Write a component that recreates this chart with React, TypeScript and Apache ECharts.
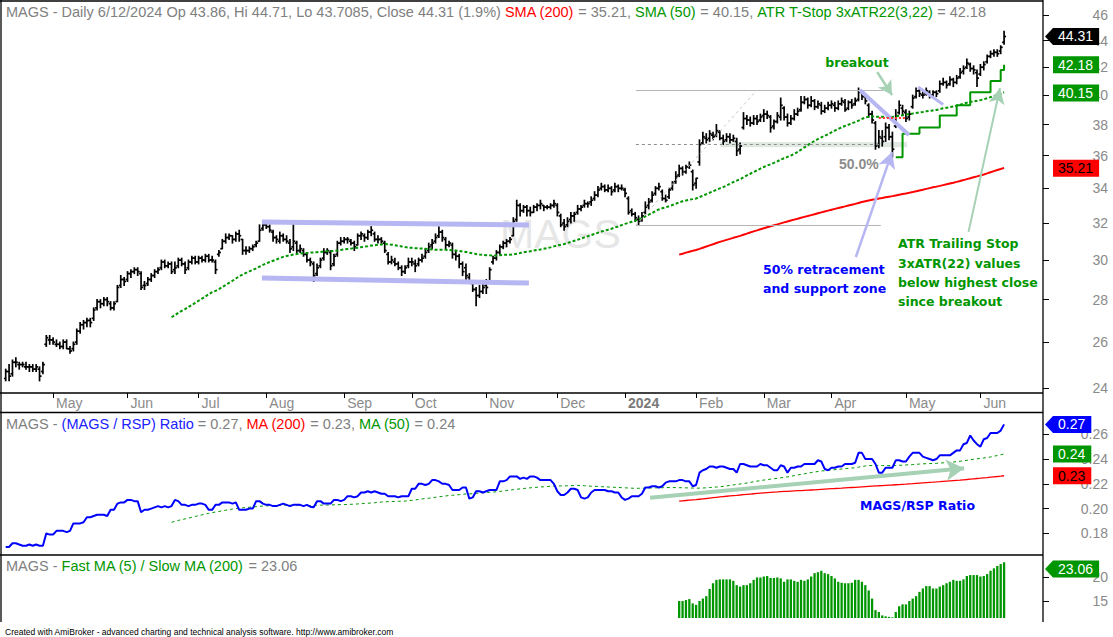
import React, { useEffect, useRef } from "react";
import * as echarts from "echarts";

// ---------- DATA ----------
// Daily bars of MAGS, 11 Apr 2023 .. 12 Jun 2024 (index 0 .. 295)
const OPEN = [
  24.4,24.7,24.6,25.1,25.0,25.0,24.9,24.9,24.9,24.8,24.8,24.7,25.9,26.1,
  26.1,25.9,25.9,25.8,26.0,25.7,25.7,26.0,26.5,26.8,26.9,27.0,27.1,27.6,27.9,27.8,28.0,27.8,27.6,27.9,28.7,29.0,
  29.0,29.3,29.4,29.5,29.3,28.7,28.8,29.0,29.2,29.4,29.6,29.9,29.7,29.8,29.5,29.7,30.0,29.8,29.6,29.9,30.1,
  29.9,30.1,30.0,30.2,30.0,29.9,30.3,30.6,31.0,31.2,31.3,31.1,31.4,31.1,30.5,30.5,30.6,30.8,31.0,31.7,
  31.9,31.8,31.5,31.2,31.0,31.3,31.1,30.9,30.7,30.9,30.5,30.5,30.3,30.0,29.8,29.3,29.7,30.1,30.4,30.4,29.8,30.3,30.9,
  31.0,31.1,31.0,30.9,30.8,31.3,31.3,31.2,31.5,31.4,31.1,31.1,30.9,30.3,29.9,29.9,29.8,29.6,29.4,29.7,
  29.9,29.8,29.8,30.0,30.2,30.5,30.8,31.0,31.3,31.5,31.1,30.8,30.8,30.3,30.2,29.8,29.6,29.1,28.8,28.5,28.2,28.4,
  28.7,28.9,29.9,30.1,30.4,30.7,30.9,31.0,31.3,32.2,33.0,32.7,32.9,32.7,32.6,32.9,33.0,33.0,32.9,32.9,33.0,
  33.0,32.4,32.0,31.9,32.2,32.4,32.6,32.8,33.0,33.1,33.2,33.4,33.6,34.0,34.1,33.9,34.0,33.9,34.1,34.0,
  33.9,33.4,32.7,32.5,32.2,32.2,32.6,33.0,33.3,33.7,34.0,33.8,33.4,33.5,34.0,34.4,34.8,35.2,35.0,35.3,35.0,
  34.3,35.6,36.8,37.1,37.1,37.3,37.3,37.5,37.1,37.0,37.2,37.0,36.9,36.4,37.8,38.4,38.3,38.1,38.4,38.3,
  38.6,38.7,38.5,37.9,38.2,38.5,39.1,38.5,38.1,38.4,38.7,39.0,39.5,39.7,39.3,39.6,39.2,39.3,38.9,39.1,
  39.3,39.3,39.1,39.4,39.5,39.1,39.5,39.4,39.7,40.2,39.9,39.3,38.7,38.1,36.7,37.1,37.2,37.8,37.2,37.9,38.8,39.1,
  38.8,38.5,39.2,39.9,40.3,40.0,40.1,40.2,40.0,40.2,40.3,40.8,40.9,40.8,41.1,40.9,41.3,41.7,42.0,42.2,41.9,41.6,
  41.5,42.0,42.4,42.8,43.0,43.1,43.2,43.86,
];
const HIGH = [
  24.8,25.0,25.2,25.3,25.1,25.1,25.1,25.0,25.0,25.0,24.9,25.1,26.3,26.3,
  26.2,26.1,26.0,26.1,26.1,25.8,26.0,26.6,26.9,27.0,27.1,27.1,27.6,28.0,28.0,28.1,28.1,27.9,27.9,28.7,29.2,29.1,
  29.4,29.5,29.6,29.6,29.4,28.9,29.1,29.3,29.5,29.6,30.0,30.0,29.9,29.9,29.9,30.1,30.1,29.9,30.0,30.2,30.2,
  30.2,30.2,30.3,30.3,30.2,30.0,30.5,31.1,31.4,31.4,31.3,31.5,31.6,31.1,30.7,30.7,30.8,31.0,31.9,32.0,
  32.0,31.9,31.6,31.3,31.5,31.4,31.3,31.1,32.0,31.0,30.8,30.6,30.4,30.1,29.9,29.8,30.1,30.6,30.6,30.5,30.3,31.0,31.2,
  31.2,31.2,31.1,31.0,31.4,31.5,31.4,31.6,31.8,31.5,31.3,31.2,31.0,30.4,30.2,30.1,29.9,29.7,29.7,30.1,
  30.1,30.0,30.1,30.3,30.6,30.9,31.1,31.4,31.8,31.6,31.2,31.0,30.9,30.5,30.3,29.9,29.8,29.3,28.9,28.6,28.7,28.9,
  29.0,29.6,30.2,30.5,30.8,31.0,31.1,31.2,32.3,33.3,33.1,33.0,33.0,32.9,33.0,33.1,33.3,33.0,33.0,33.1,33.3,
  33.1,32.5,32.2,32.3,32.6,32.6,33.0,33.0,33.3,33.2,33.5,33.8,34.1,34.3,34.2,34.2,34.1,34.3,34.2,34.2,
  34.0,33.5,32.8,32.6,32.4,32.6,33.2,33.4,33.8,34.1,34.3,33.9,33.6,34.0,34.4,35.0,35.4,35.3,35.4,35.6,35.1,
  34.6,37.0,37.5,37.4,37.6,37.5,38.0,37.6,37.3,37.4,37.4,37.3,37.1,36.8,38.8,38.6,38.5,38.6,38.6,38.7,
  39.0,38.9,38.6,38.3,38.8,39.8,39.2,38.7,38.6,39.0,39.1,39.9,39.9,39.8,39.9,39.7,39.6,39.5,39.3,39.5,
  39.6,39.5,39.6,39.8,39.7,39.6,39.7,39.8,40.5,40.3,40.0,39.4,38.9,38.2,37.6,37.6,38.1,38.0,37.5,39.0,39.6,39.3,
  39.0,38.9,40.0,40.5,40.4,40.3,40.5,40.3,40.3,40.3,41.0,41.2,41.0,41.3,41.2,41.4,41.9,42.1,42.6,42.3,42.1,41.8,
  42.2,42.4,42.9,43.2,43.3,43.3,43.6,44.71,
];
const LOW = [
  24.3,24.3,24.5,24.9,24.8,24.9,24.8,24.7,24.7,24.7,24.3,24.6,25.8,25.9,
  25.9,25.8,25.7,25.7,25.7,25.5,25.6,25.9,26.4,26.6,26.7,26.7,27.0,27.5,27.6,27.7,27.7,27.5,27.5,27.9,28.6,28.7,
  28.9,29.1,29.3,29.2,28.5,28.5,28.7,28.9,29.1,29.3,29.5,29.6,29.6,29.3,29.3,29.6,29.7,29.3,29.5,29.8,29.8,
  29.8,29.9,29.9,29.9,29.9,29.3,30.2,30.6,30.9,31.1,30.9,31.0,31.0,30.3,30.3,30.4,30.5,30.7,31.0,31.6,
  31.7,31.5,31.0,30.9,30.9,31.0,30.9,30.4,30.5,30.4,30.4,30.2,29.9,29.7,28.9,29.2,29.6,30.0,30.3,29.5,29.7,30.2,30.8,
  30.9,30.9,30.8,30.5,30.8,31.1,31.0,31.1,31.3,31.0,30.9,30.9,30.4,29.8,29.8,29.7,29.5,29.2,29.3,29.6,
  29.7,29.4,29.7,29.9,30.1,30.4,30.6,30.9,31.2,31.0,30.6,30.7,30.1,30.0,29.6,29.2,29.0,28.8,28.4,27.7,28.1,28.3,
  28.3,28.9,29.8,30.0,30.3,30.6,30.7,30.9,31.3,32.1,32.4,32.6,32.4,32.4,32.6,32.7,32.8,32.7,32.8,32.8,32.9,
  32.4,31.8,31.6,31.8,32.0,32.1,32.5,32.7,32.9,32.9,33.0,33.3,33.5,33.9,33.8,33.8,33.6,33.8,33.8,33.9,
  33.5,32.5,32.4,32.1,31.9,32.1,32.5,32.8,33.2,33.6,33.9,33.3,33.2,33.4,33.9,34.3,34.7,34.8,34.9,35.2,33.9,
  34.0,35.4,36.7,36.8,36.9,37.0,37.2,37.0,36.7,36.9,36.8,36.9,36.0,36.1,37.7,38.0,37.9,38.0,38.0,38.2,
  38.2,38.4,37.5,37.7,38.1,38.3,38.3,37.9,38.0,38.3,38.6,38.9,39.4,39.1,39.2,39.0,39.1,38.7,38.8,39.0,
  39.1,38.9,39.0,39.3,38.9,39.0,39.1,39.3,39.6,39.7,39.4,38.5,38.1,36.4,36.5,36.6,36.9,37.0,35.9,37.8,38.7,38.6,
  38.2,38.3,39.1,39.8,39.9,39.8,40.0,39.8,39.9,39.9,40.2,40.7,40.5,40.7,40.6,40.8,41.2,41.5,41.9,41.7,41.5,40.6,
  41.4,41.8,42.3,42.7,42.8,42.8,43.0,43.7085,
];
const CLOSE = [
  24.7,24.5,25.1,25.1,25.0,25.0,24.9,24.9,24.8,24.9,24.5,25.0,26.2,26.1,
  26.0,25.9,25.8,26.0,25.7,25.6,25.9,26.5,26.8,26.9,27.0,26.9,27.5,27.9,27.8,28.0,27.9,27.6,27.8,28.6,29.0,28.9,
  29.3,29.4,29.5,29.4,28.6,28.7,29.0,29.2,29.4,29.5,29.9,29.7,29.8,29.4,29.6,30.0,29.8,29.5,29.9,30.1,29.9,
  30.1,30.0,30.2,30.0,30.0,29.5,30.4,31.0,31.2,31.3,31.1,31.4,31.3,30.5,30.5,30.6,30.7,30.9,31.6,31.9,
  31.8,31.6,31.2,31.1,31.3,31.1,31.0,30.6,31.0,30.5,30.6,30.3,30.0,29.9,29.2,29.6,30.0,30.4,30.5,29.7,30.2,30.9,31.0,
  31.1,31.1,30.9,30.7,31.3,31.4,31.2,31.5,31.6,31.1,31.1,31.0,30.5,29.9,30.0,29.8,29.6,29.4,29.6,29.9,
  29.9,29.7,30.0,30.1,30.4,30.7,30.9,31.2,31.5,31.2,30.8,30.9,30.3,30.2,29.8,29.4,29.2,28.9,28.5,28.2,28.4,28.6,
  28.6,29.5,30.1,30.4,30.7,30.9,31.0,31.1,32.1,33.0,32.7,32.9,32.7,32.6,32.9,33.0,33.1,32.9,32.9,33.0,33.1,
  32.6,31.9,31.8,32.1,32.4,32.5,32.8,32.9,33.1,33.1,33.3,33.6,33.9,34.1,33.9,34.0,33.8,34.1,34.0,34.0,
  33.7,32.6,32.5,32.3,32.1,32.4,32.9,33.2,33.6,34.0,34.1,33.4,33.3,33.9,34.3,34.7,35.2,35.0,35.3,35.4,34.2,
  34.6,36.7,37.2,37.0,37.4,37.2,37.6,37.1,36.9,37.2,37.0,37.1,36.3,36.6,38.4,38.3,38.1,38.4,38.2,38.5,
  38.7,38.6,37.8,38.2,38.6,39.3,38.5,38.1,38.4,38.7,38.9,39.5,39.7,39.3,39.6,39.2,39.4,38.9,39.1,39.3,
  39.4,39.1,39.4,39.6,39.0,39.5,39.3,39.6,40.2,39.9,39.6,38.7,38.3,36.6,37.2,36.9,37.8,37.2,36.4,38.6,39.3,38.9,
  38.4,38.7,39.8,40.3,40.1,40.0,40.3,40.0,40.2,40.1,40.8,40.9,40.7,41.1,40.9,41.2,41.6,41.9,42.3,41.9,41.8,41.2,
  42.0,42.2,42.8,43.0,43.1,43.0,43.48,44.31,
];
// MAGS / RSP ratio
const RATIO = [
  0.169,0.169,0.172,0.172,0.171,0.170,0.170,0.171,0.170,0.171,0.170,0.170,0.180,0.179,
  0.179,0.182,0.182,0.182,0.181,0.182,0.188,0.188,0.188,0.189,0.193,0.193,0.194,0.195,0.195,0.195,0.194,0.199,0.199,0.204,0.205,0.205,
  0.207,0.207,0.206,0.206,0.197,0.199,0.199,0.200,0.201,0.202,0.201,0.202,0.201,0.202,0.207,0.206,0.203,0.203,0.202,0.203,0.203,
  0.204,0.204,0.203,0.199,0.199,0.203,0.203,0.205,0.205,0.205,0.204,0.205,0.199,0.199,0.199,0.200,0.200,0.206,0.206,0.204,
  0.203,0.203,0.202,0.202,0.203,0.204,0.203,0.202,0.203,0.203,0.203,0.202,0.203,0.2015,0.201,0.206,0.206,0.204,0.204,0.204,0.207,0.207,0.206,
  0.207,0.210,0.210,0.209,0.210,0.213,0.213,0.214,0.213,0.214,0.213,0.212,0.212,0.210,0.210,0.210,0.209,0.210,0.210,0.210,
  0.216,0.216,0.220,0.220,0.219,0.220,0.223,0.223,0.222,0.220,0.220,0.219,0.215,0.215,0.215,0.217,0.217,0.208,0.209,0.214,0.214,0.213,
  0.214,0.215,0.215,0.215,0.222,0.222,0.223,0.226,0.226,0.226,0.224,0.225,0.224,0.226,0.226,0.225,0.223,0.223,0.223,0.223,0.220,
  0.214,0.211,0.211,0.213,0.216,0.216,0.215,0.209,0.208,0.209,0.213,0.215,0.215,0.215,0.215,0.214,0.214,0.213,0.213,0.209,
  0.207,0.208,0.210,0.210,0.210,0.212,0.217,0.217,0.218,0.218,0.217,0.218,0.221,0.222,0.222,0.222,0.223,0.223,0.222,0.222,0.218,
  0.219,0.229,0.231,0.232,0.234,0.234,0.233,0.234,0.234,0.233,0.232,0.232,0.229,0.236,0.236,0.235,0.234,0.234,0.234,0.236,
  0.235,0.235,0.233,0.231,0.231,0.235,0.234,0.229,0.233,0.233,0.234,0.234,0.236,0.236,0.236,0.236,0.239,0.238,0.232,0.231,
  0.233,0.233,0.234,0.234,0.236,0.236,0.236,0.237,0.245,0.245,0.240,0.240,0.240,0.236,0.229,0.229,0.233,0.233,0.233,0.239,0.239,0.238,
  0.238,0.242,0.245,0.245,0.245,0.242,0.241,0.240,0.239,0.240,0.243,0.243,0.243,0.243,0.245,0.247,0.247,0.252,0.253,0.259,0.255,0.252,
  0.250,0.256,0.257,0.261,0.261,0.261,0.263,0.268,
];
// Fast MA(5) / Slow MA(200) histogram, bars 199 .. 295
const HIST_START = 199;
const HIST = [
  15.0,15.0,15.2,15.4,14.5,14.2,15.0,15.5,16.0,17.5,
  18.7,19.4,19.5,19.5,19.5,19.5,19.2,18.3,18.0,18.3,
  18.3,18.7,19.4,19.9,19.9,20.1,20.2,19.8,19.8,19.9,
  19.7,19.0,19.5,19.5,19.2,19.0,19.4,19.2,19.5,20.1,
  20.8,21.0,21.3,20.8,20.6,20.2,19.7,19.0,18.8,18.7,
  18.7,18.8,19.4,19.4,19.0,18.3,17.2,15.5,13.1,12.7,
  12.0,11.8,11.7,11.6,12.7,13.9,14.3,14.3,15.0,15.5,
  16.0,16.9,17.6,18.1,18.1,17.6,17.6,18.0,18.3,18.7,
  19.0,19.4,19.2,19.2,19.5,20.2,20.4,20.4,20.4,20.1,
  20.2,20.6,21.3,21.8,22.3,22.7,23.06,
];
// ATR trailing stop, bars 263 .. 295
const ATR_START = 263;
const ATR_STOP = [
  35.9,35.9,37.4,37.4,37.4,37.4,37.4,37.8,37.8,37.8,37.8,37.8,37.8,
  38.6,38.6,38.6,38.6,38.6,39.3,39.3,39.3,39.3,40.2,40.2,40.2,40.2,40.2,40.2,
  41.0,41.0,41.0,41.8,42.18,
];
const MONTH_IDX = [14, 36, 57, 77, 100, 120, 142, 163, 183, 204, 224, 244, 266, 288];
const MONTH_LABELS = ["May","Jun","Jul","Aug","Sep","Oct","Nov","Dec","2024","Feb","Mar","Apr","May","Jun"];
const PRICE_TICKS = [24, 26, 28, 30, 32, 34, 36, 38, 40, 42, 44, 46];
const RATIO_TICKS = [0.18, 0.2, 0.22, 0.24, 0.26];
const HIST_TICKS = [15, 20];
const SLOTS = 307;

// last values shown in the title lines / value boxes
const LAST_CLOSE = 44.31;
const LAST_ATR = 42.18;
const LAST_SMA50 = 40.15;
const LAST_SMA200 = 35.21;
const LAST_HIST = 23.06;

// hand-drawn annotations, in [bar index, value]
const CHANNEL_TOP = [[75.7, 32.06], [154.6, 31.89]];
const CHANNEL_BOTTOM = [[75.7, 29.08], [154.6, 28.82]];
const FIB_HIGH = [[186.2, 40.36], [259.2, 40.36]];
const FIB_MID = [[186.2, 36.73], [258.6, 36.73]];
const FIB_LOW = [[186.2, 31.89], [258.6, 31.89]];
const FIB_DIAG = [[186.2, 31.89], [222.0, 40.36]];
const SUPPORT_ZONE = [[211.1, 36.86], [266.3, 36.53]];
const RED_DOT = [[258.0, 38.45], [266.3, 38.45]];
const DOWNTREND = [[252.4, 40.36], [266.9, 37.31]];
const PENNANT = [[269.6, 40.57], [277.0, 39.35]];
const BREAKOUT_ARROW = [[257.5, 41.65], [261.9, 40.01]];
const RETRACE_ARROW = [[251.2, 30.16], [261.9, 36.22]];
const ATR_ARROW = [[284.5, 31.51], [293.8, 40.5]];
const RATIO_ARROW = [[190.4, 0.2088], [283.2, 0.2325]];

// ---------- helpers ----------
const FONT = '"Liberation Sans", Arial, sans-serif';
const NOTE_FONT = '"DejaVu Sans", Verdana, sans-serif';
const GREEN = "#009600";
const LAVENDER = "#b6b6f2";
const MINT = "#a6d1b5";

function sma(arr: number[], n: number): (number | null)[] {
  return arr.map((_, i) => {
    if (i < n - 1) return null;
    let s = 0;
    for (let k = i - n + 1; k <= i; k++) s += arr[k];
    return s / n;
  });
}
const ln = Math.log;

function seg(pts: number[][], style: any, arrow = false, isLog = true, size: any = 12) {
  const tr = (p: number[]) => [p[0], isLog ? ln(p[1]) : p[1]];
  return [
    { coord: tr(pts[0]), symbol: "none", lineStyle: style },
    { coord: tr(pts[1]), symbol: arrow ? "arrow" : "none", symbolSize: size, lineStyle: style },
  ];
}

function textWidth(s: string) {
  let w = 0;
  for (const ch of s) w += ch === "." ? 3.9 : 7.8;
  return w;
}

function valueBox(y: number, text: string, fill: string, color: string, arrow: boolean) {
  const x1 = 1054 + textWidth(text) + 10;
  const h = 8.5;
  const shape = arrow
    ? { type: "polygon", shape: { points: [[1045, y], [1053, y - h], [x1, y - h], [x1, y + h], [1053, y + h]] } }
    : { type: "rect", shape: { x: 1053, y: y - h, width: x1 - 1053, height: 2 * h } };
  return [
    { ...shape, style: { fill }, z: 200, silent: true },
    {
      type: "text", x: 1058, y, z: 201, silent: true,
      style: { text, fill: color, fontSize: 14, fontFamily: FONT, verticalAlign: "middle" },
    },
  ];
}

export default function App() {
  const ref = useRef<HTMLDivElement>(null);

  useEffect(() => {
    if (!ref.current) return;
    const chart = echarts.init(ref.current, null, { renderer: "svg" });

    const sma50 = sma(CLOSE, 50);
    const sma200 = sma(CLOSE, 200);
    const rma50 = sma(RATIO, 50);
    const rma200 = sma(RATIO, 200);
    const pairs = (arr: (number | null)[], f = (v: number) => v) =>
      arr.map((v, i) => (v == null ? null : [i, f(v)])).filter((p) => p !== null);

    const ohlc = CLOSE.map((c, i) => [i, ln(OPEN[i]), ln(HIGH[i]), ln(LOW[i]), ln(c)]);
    const atr = ATR_STOP.map((v, k) => [ATR_START + k, ln(v)]);
    const hist = HIST.map((v, k) => [HIST_START + k, v]);

    const xBase = (gridIndex: number) => ({
      type: "value", gridIndex, min: -0.5, max: SLOTS - 0.5,
      splitLine: { show: false }, axisLine: { show: false, onZero: false },
    });
    const yBase = (gridIndex: number, min: number, max: number, ticks: number[], fmt: (v: number) => string) => ({
      type: "value", gridIndex, min, max, position: "right", scale: true,
      splitLine: { show: false },
      axisLine: { show: false, onZero: false },
      axisTick: { show: true, customValues: ticks, length: 6, lineStyle: { color: "#000", width: 1 } },
      axisLabel: {
        customValues: ticks, formatter: fmt, align: "right", margin: 65,
        color: "#8a8a8a", fontSize: 14, fontFamily: FONT,
      },
    });

    const noteLine = (w: number, color: string, type: any = "solid") => ({ width: w, color, type, opacity: 1 });

    const option: any = {
      animation: false,
      textStyle: { fontFamily: FONT },
      grid: [
        { left: 4, top: 1, width: 1039, height: 392 },
        { left: 4, top: 413, width: 1039, height: 142 },
        { left: 4, top: 555, width: 1039, height: 63 },
      ],
      xAxis: [
        {
          ...xBase(0),
          axisTick: { show: true, customValues: MONTH_IDX, length: 5, lineStyle: { color: "#000" } },
          axisLabel: {
            customValues: MONTH_IDX,
            formatter: (v: number) => {
              const k = MONTH_IDX.indexOf(Math.round(v));
              const s = k >= 0 ? MONTH_LABELS[k] : "";
              return s === "2024" ? "{b|2024}" : s;
            },
            align: "left", padding: [0, 0, 0, 3], margin: 3,
            color: "#8a8a8a", fontSize: 14, fontFamily: FONT,
            rich: { b: { fontWeight: "bold", color: "#7a7a7a", fontSize: 14, fontFamily: FONT } },
          },
        },
        { ...xBase(1), show: false },
        { ...xBase(2), show: false },
      ],
      yAxis: [
        yBase(0, ln(23.79), ln(47.14), PRICE_TICKS.map(ln), (v) => String(Math.round(Math.exp(v)))),
        yBase(1, 0.1625, 0.2772, RATIO_TICKS, (v) => v.toFixed(2)),
        yBase(2, 11.46, 24.58, HIST_TICKS, (v) => String(Math.round(v))),
      ],
      series: [
        {
          // annotations in the price pane (behind the bars)
          type: "line", xAxisIndex: 0, yAxisIndex: 0, data: [], z: 1, silent: true,
          markArea: {
            silent: true,
            itemStyle: { color: "#dfe9e2" },
            data: [[{ coord: [SUPPORT_ZONE[0][0], ln(SUPPORT_ZONE[0][1])] }, { coord: [SUPPORT_ZONE[1][0], ln(SUPPORT_ZONE[1][1])] }]],
          },
          markLine: {
            silent: true, symbol: ["none", "none"], label: { show: false },
            emphasis: { disabled: true },
            data: [
              seg(CHANNEL_TOP, noteLine(5, LAVENDER)),
              seg(CHANNEL_BOTTOM, noteLine(5, LAVENDER)),
              seg(FIB_HIGH, noteLine(1, "#b4b4b4")),
              seg(FIB_MID, noteLine(1, "#8c8c8c", [3, 3])),
              seg(FIB_LOW, noteLine(1, "#b4b4b4")),
              seg(FIB_DIAG, noteLine(1, "#c8c8c8", [3, 3])),
              seg(DOWNTREND, noteLine(4, LAVENDER)),
              seg(PENNANT, noteLine(3, LAVENDER)),
            ],
          },
        },
        {
          type: "custom", xAxisIndex: 0, yAxisIndex: 0, data: ohlc, z: 3, clip: true, silent: true,
          encode: { x: 0, y: [1, 2, 3, 4] },
          renderItem: (params: any, api: any) => {
            const i = api.value(0);
            const pO = api.coord([i, api.value(1)]);
            const pH = api.coord([i, api.value(2)]);
            const pL = api.coord([i, api.value(3)]);
            const pC = api.coord([i, api.value(4)]);
            const x = pH[0];
            const st = { stroke: "#000", lineWidth: 1.7 };
            return {
              type: "group",
              children: [
                { type: "line", shape: { x1: x, y1: pH[1] - 0.5, x2: x, y2: pL[1] + 0.5 }, style: st },
                { type: "line", shape: { x1: x - 2, y1: pO[1], x2: x, y2: pO[1] }, style: st },
                { type: "line", shape: { x1: x, y1: pC[1], x2: x + 2, y2: pC[1] }, style: st },
              ],
            };
          },
        },
        {
          type: "line", xAxisIndex: 0, yAxisIndex: 0, data: pairs(sma50, ln), showSymbol: false, z: 4,
          lineStyle: { color: GREEN, width: 2, type: [3, 2] }, silent: true,
        },
        {
          type: "line", xAxisIndex: 0, yAxisIndex: 0, data: pairs(sma200, ln), showSymbol: false, z: 4,
          lineStyle: { color: "#ff0000", width: 2 }, silent: true,
        },
        {
          type: "line", xAxisIndex: 0, yAxisIndex: 0, data: atr, showSymbol: false, step: "end", z: 4,
          lineStyle: { color: GREEN, width: 2 }, silent: true,
        },
        {
          // arrows / red dotted level drawn over the bars
          type: "line", xAxisIndex: 0, yAxisIndex: 0, data: [], z: 5, silent: true,
          markLine: {
            silent: true, symbol: ["none", "none"], label: { show: false },
            emphasis: { disabled: true },
            data: [
              seg(RED_DOT, noteLine(2, "#ff3030", [2, 2])),
              seg(BREAKOUT_ARROW, noteLine(2.5, MINT), true, true, [12, 14]),
              seg(RETRACE_ARROW, noteLine(2.5, LAVENDER), true, true, [13, 16]),
              seg(ATR_ARROW, noteLine(2, MINT), true, true, [12, 16]),
            ],
          },
        },
        {
          type: "line", xAxisIndex: 1, yAxisIndex: 1, data: pairs(rma50), showSymbol: false,
          lineStyle: { color: GREEN, width: 1, type: [3, 3] }, silent: true, z: 2,
        },
        {
          type: "line", xAxisIndex: 1, yAxisIndex: 1, data: pairs(rma200), showSymbol: false,
          lineStyle: { color: "#ff0000", width: 1.3 }, silent: true, z: 2,
          markLine: {
            silent: true, symbol: ["none", "none"], label: { show: false },
            emphasis: { disabled: true },
            data: [seg(RATIO_ARROW, noteLine(4, MINT), true, false, [16, 18])],
          },
        },
        {
          type: "line", xAxisIndex: 1, yAxisIndex: 1, data: pairs(RATIO), showSymbol: false,
          lineStyle: { color: "#0000ff", width: 2 }, silent: true, z: 3,
        },
        {
          type: "bar", xAxisIndex: 2, yAxisIndex: 2, data: hist, barWidth: 2.3,
          itemStyle: { color: GREEN }, silent: true,
        },
      ],
    };
    chart.setOption(option);

    const py = (v: number) => chart.convertToPixel({ yAxisIndex: 0 }, ln(v)) as number;
    const ry = (v: number) => chart.convertToPixel({ yAxisIndex: 1 }, v) as number;
    const hy = (v: number) => chart.convertToPixel({ yAxisIndex: 2 }, v) as number;

    const line = (x1: number, y1: number, x2: number, y2: number) => ({
      type: "line", shape: { x1, y1, x2, y2 }, style: { stroke: "#000", lineWidth: 1.3 }, z: 150, silent: true,
    });
    const txt = (x: number, y: number, text: string, fill: string, extra: any = {}) => ({
      type: "text", x, y, z: 150, silent: true,
      style: { text, fill, fontSize: 12.5, fontFamily: NOTE_FONT, fontWeight: "bold", verticalAlign: "middle", ...extra },
    });
    const gray = "#808080";
    const head = (y: number, text: string) => ({
      type: "text", x: 6, y, z: 150, silent: true,
      style: {
        text, fontSize: 14.5, fontFamily: FONT, verticalAlign: "middle", fill: gray,
        rich: {
          g: { fill: gray, fontSize: 14.5, fontFamily: FONT },
          r: { fill: "#ff0000", fontSize: 14.5, fontFamily: FONT },
          n: { fill: GREEN, fontSize: 14.5, fontFamily: FONT },
          b: { fill: "#2020ff", fontSize: 14.5, fontFamily: FONT },
        },
      },
    });

    const lastRatio = RATIO[RATIO.length - 1];
    const lastR50 = rma50[rma50.length - 1] as number;
    const lastR200 = rma200[rma200.length - 1] as number;

    const graphic: any[] = [
      // watermark
      {
        type: "text", x: 500, y: 234, z: 0, silent: true,
        style: { text: "MAGS", fill: "#e6e6e6", fontSize: 41, fontFamily: FONT, verticalAlign: "middle" },
      },
      // frames
      line(0, 1, 1043, 1),
      line(1, 0, 1, 622),
      line(1043, 0, 1043, 622),
      line(0, 393, 1043, 393),
      line(0, 412.5, 1043, 412.5),
      line(0, 555, 1043, 555),
      // title lines
      head(12, "{g|MAGS - Daily 6/12/2024 Op 43.86, Hi 44.71, Lo 43.7085, Close 44.31 (1.9%) }{r|SMA (200)}{g| = 35.21, }{n|SMA (50)}{g| = 40.15, }{n|ATR T-Stop 3xATR22(3,22)}{g| = 42.18}"),
      head(424, "{g|MAGS - }{b|(MAGS / RSP) Ratio}{g| = 0.27, }{r|MA (200)}{g| = 0.23, }{n|MA (50)}{g| = 0.24}"),
      head(566, "{g|MAGS - }{n|Fast MA (5) / Slow MA (200)}{g| = 23.06}"),
      {
        type: "text", x: 5, y: 632, z: 150, silent: true,
        style: {
          text: "Created with AmiBroker - advanced charting and technical analysis software. http://www.amibroker.com",
          fill: "#000", fontSize: 8.5, fontFamily: FONT, verticalAlign: "middle",
        },
      },
      // annotation texts
      txt(857, 62, "breakout", GREEN, { align: "center" }),
      {
        type: "text", x: 839, y: 164, z: 150, silent: true,
        style: { text: "50.0%", fill: "#8c8c8c", fontSize: 14, fontWeight: "bold", fontFamily: FONT, verticalAlign: "middle" },
      },
      txt(763, 269, "50% retracement", "#0000ff"),
      txt(763, 288, "and support zone", "#0000ff"),
      txt(898, 243, "ATR Trailing Stop", GREEN),
      txt(898, 263, "3xATR(22) values", GREEN),
      txt(898, 282, "below highest close", GREEN),
      txt(898, 301, "since breakout", GREEN),
      txt(860, 505, "MAGS/RSP Ratio", "#0000ff"),
      // value boxes
      ...valueBox(py(LAST_CLOSE), "44.31", "#000", "#fff", true),
      ...valueBox(py(LAST_ATR), "42.18", GREEN, "#fff", false),
      ...valueBox(py(LAST_SMA50), "40.15", GREEN, "#fff", false),
      ...valueBox(py(LAST_SMA200), "35.21", "#ff0000", "#000", false),
      ...valueBox(ry(lastRatio), "0.27", "#0000ff", "#fff", true),
      ...valueBox(ry(lastR50), "0.24", GREEN, "#fff", false),
      ...valueBox(ry(lastR200), "0.23", "#ff0000", "#000", false),
      ...valueBox(Math.max(hy(LAST_HIST), 569), "23.06", GREEN, "#fff", true),
    ];
    chart.setOption({ graphic });

    return () => chart.dispose();
  }, []);

  return (
    <div
      ref={ref}
      style={{ position: "fixed", left: 0, top: 0, width: 1113, height: 637, background: "#fff" }}
    />
  );
}
